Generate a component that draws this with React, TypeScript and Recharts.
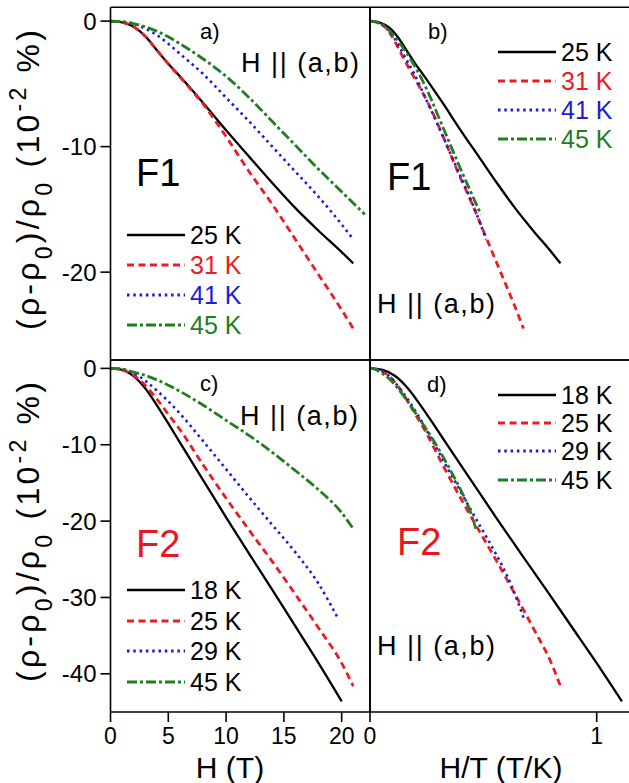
import React from "react";
import { LineChart, Line, XAxis, YAxis } from "recharts";

const FONT = '"Liberation Sans", Arial, Helvetica, sans-serif';

// sample F1, panels a) and b)  -- H in tesla, (rho-rho0)/rho0 in 1e-2 %
const f1Temps = [25, 31, 41, 45];
const f1H25 = [0, 1, 2, 3, 4, 5, 6, 8, 10, 12, 14, 16, 18, 20, 21];
const f1R25 = [0, -0.1, -0.45, -1.2, -2.3, -3.4, -4.4, -6.5, -8.7, -10.8, -12.9, -14.9, -16.7, -18.4, -19.3];
const f1H31 = [0, 1, 2, 3, 4, 5, 6, 8, 10, 12, 14, 16, 18, 20, 21];
const f1R31 = [0, -0.1, -0.45, -1.2, -2.3, -3.4, -4.45, -6.6, -9.2, -12.0, -14.6, -17.4, -20.2, -23.0, -24.5];
const f1H41 = [0, 1, 2, 3, 4, 5, 6, 8, 10, 12, 14, 16, 18, 20, 21];
const f1R41 = [0, -0.05, -0.2, -0.6, -1.1, -1.8, -2.6, -4.2, -6.1, -8.0, -10.0, -12.0, -14.0, -16.2, -17.4];
const f1H45 = [0, 1, 2, 3, 4, 5, 6, 8, 10, 12, 14, 16, 18, 20, 22];
const f1R45 = [0, -0.05, -0.2, -0.45, -0.8, -1.25, -1.8, -3.0, -4.4, -6.1, -8.0, -9.9, -11.8, -13.6, -15.4];

// sample F2, panels c) and d)
const f2Temps = [18, 25, 29, 45];
const f2H18 = [0, 1, 2, 3, 4, 5, 6, 8, 10, 12, 14, 16, 18, 20];
const f2R18 = [0, -0.2, -1.0, -2.6, -4.8, -7.2, -9.7, -14.6, -19.5, -24.3, -29.0, -33.8, -38.6, -43.6];
const f2H25 = [0, 1, 2, 3, 4, 5, 6, 8, 10, 12, 14, 16, 18, 20, 21];
const f2R25 = [0, -0.2, -0.9, -2.2, -4.0, -6.0, -8.0, -12.6, -17.0, -21.2, -25.3, -29.6, -34.0, -38.6, -41.6];
const f2H29 = [0, 1, 2, 3, 4, 5, 6, 8, 10, 12, 14, 16, 18, 19.7];
const f2R29 = [0, -0.1, -0.6, -1.6, -2.9, -4.3, -5.9, -9.5, -13.2, -16.9, -20.5, -24.1, -28.2, -32.8];
const f2H45 = [0, 1, 2, 3, 4, 5, 6, 8, 10, 12, 14, 16, 18, 20, 21];
const f2R45 = [0, -0.1, -0.5, -0.9, -1.5, -2.2, -3.0, -4.8, -6.8, -8.8, -11.0, -13.4, -15.9, -18.9, -21.0];

// ticks
const hMajor = [0, 5, 10, 15, 20];
const hMinor = [2.5, 7.5, 12.5, 17.5];
const htMajor = [0, 1];
const htMinor = [0.25, 0.5, 0.75];
const yMajorF1 = [0, -10, -20];
const yMinorF1 = [-5, -15, -25];
const yMajorF2 = [0, -10, -20, -30, -40];
const yMinorF2 = [-5, -15, -25, -35];

const STYLES = [
  { color: "#000000", dash: undefined, width: 2.3 },
  { color: "#ea1c24", dash: "7 4.5", width: 2.8 },
  { color: "#1c1cd4", dash: "2.5 3.8", width: 2.6 },
  { color: "#1f7e1f", dash: "10 3 3 3", width: 2.8 },
];

const toPoints = (h: number[], r: number[], t?: number) =>
  h.map((v, i) => ({ x: t ? v / t : v, y: r[i] }));

const f1Raw = [
  [f1H25, f1R25],
  [f1H31, f1R31],
  [f1H41, f1R41],
  [f1H45, f1R45],
];
const f2Raw = [
  [f2H18, f2R18],
  [f2H25, f2R25],
  [f2H29, f2R29],
  [f2H45, f2R45],
];

const curvesA = f1Raw.map(([h, r]) => toPoints(h, r));
const curvesB = f1Raw.map(([h, r], i) => toPoints(h, r, f1Temps[i]));
const curvesC = f2Raw.map(([h, r]) => toPoints(h, r));
const curvesD = f2Raw.map(([h, r], i) => toPoints(h, r, f2Temps[i]));

const W = 640;
const H = 783;
const THIN = 0.001; // axes take no room; the plot box is set by the margins
const AX = { stroke: "#000", strokeWidth: 1.6 };
const TICK_Y = { fill: "#000", fontSize: 24, fontFamily: FONT };
const TICK_X = { fill: "#000", fontSize: 23, fontFamily: FONT };

type PanelProps = {
  curves: { x: number; y: number }[][];
  box: number[];
  xDomain: number[];
  yDomain: number[];
  xMajor: number[];
  xMinor: number[];
  yMajor: number[];
  yMinor: number[];
  bottomLabels: boolean;
  leftLabels: boolean;
};

function Panel({ curves, box, xDomain, yDomain, xMajor, xMinor, yMajor, yMinor, bottomLabels, leftLabels }: PanelProps) {
  const [x0, y0, x1, y1] = box;
  const topTicks = [...xMinor, ...xMajor.filter((v) => v > 0)];
  return (
    <div style={{ position: "absolute", left: 0, top: 0 }}>
      <LineChart width={W} height={H} margin={{ left: x0, top: y0, right: W - x1, bottom: H - y1 }}>
        <XAxis xAxisId="x" type="number" dataKey="x" domain={xDomain} allowDataOverflow height={THIN}
          axisLine={AX} ticks={xMajor} interval={0} tickLine={bottomLabels ? AX : false}
          tickSize={10} tickMargin={6} tick={bottomLabels ? TICK_X : false} />
        {bottomLabels && (
          <XAxis xAxisId="xm" type="number" dataKey="x" domain={xDomain} allowDataOverflow height={THIN}
            axisLine={false} ticks={xMinor} interval={0} tickLine={AX} tickSize={5} tick={false} />
        )}
        <XAxis xAxisId="xt" orientation="top" mirror type="number" dataKey="x" domain={xDomain}
          allowDataOverflow height={THIN} axisLine={AX} ticks={topTicks} interval={0} tickLine={AX}
          tickSize={8} tick={false} />
        <YAxis yAxisId="y" type="number" domain={yDomain} allowDataOverflow width={THIN} axisLine={AX}
          ticks={yMajor} interval={0} tickLine={leftLabels ? AX : false} tickSize={10} tickMargin={4}
          tick={leftLabels ? TICK_Y : false} />
        {leftLabels && (
          <YAxis yAxisId="ym" type="number" domain={yDomain} allowDataOverflow width={THIN} axisLine={false}
            ticks={yMinor} interval={0} tickLine={AX} tickSize={5} tick={false} />
        )}
        <YAxis yAxisId="yr" orientation="right" mirror type="number" domain={yDomain} allowDataOverflow
          width={THIN} axisLine={AX} ticks={yMajor} interval={0} tickLine={AX} tickSize={10} tick={false} />
        <YAxis yAxisId="yrm" orientation="right" mirror type="number" domain={yDomain} allowDataOverflow
          width={THIN} axisLine={false} ticks={yMinor} interval={0} tickLine={AX} tickSize={6} tick={false} />
        {curves.map((c, i) => (
          <Line key={i} xAxisId="x" yAxisId="y" data={c} dataKey="y" type="monotone"
            stroke={STYLES[i].color} strokeWidth={STYLES[i].width} strokeDasharray={STYLES[i].dash}
            dot={false} activeDot={false} isAnimationActive={false} />
        ))}
      </LineChart>
    </div>
  );
}

function Key({ x, rows, temps, colored }: { x: number; rows: number[]; temps: number[]; colored: boolean }) {
  return (
    <g>
      {temps.map((t, i) => (
        <g key={t + "-" + i}>
          <line x1={x} x2={x + 58} y1={rows[i]} y2={rows[i]} stroke={STYLES[i].color}
            strokeWidth={STYLES[i].width + 0.4} strokeDasharray={STYLES[i].dash} />
          <text x={x + 63} y={rows[i] + 9} fontSize={25} fontFamily={FONT}
            fill={colored ? STYLES[i].color : "#000"}>{`${t} K`}</text>
        </g>
      ))}
    </g>
  );
}

function YTitle({ cx, cy }: { cx: number; cy: number }) {
  return (
    <text x={cx} y={cy} transform={`rotate(-90 ${cx} ${cy})`} textAnchor="middle" fontSize={32}
      fontFamily={FONT} textLength={300} lengthAdjust="spacing">
      (ρ-ρ<tspan baselineShift="sub" fontSize={23}>0</tspan>)/ρ<tspan baselineShift="sub" fontSize={23}>0</tspan>{" (10"}<tspan baselineShift="super" fontSize={23}>-2</tspan>{" %)"}
    </text>
  );
}

const tx = { fontFamily: FONT, fill: "#000" };
const orient = "H || (a,b)";

export default function App() {
  return (
    <div style={{ position: "absolute", left: 0, top: 0, width: 629, height: 783, overflow: "hidden", background: "#fff" }}>
      <Panel curves={curvesA} box={[110.5, 7.3, 370, 360]} xDomain={[0, 22.45]} yDomain={[-27, 1.1]}
        xMajor={hMajor} xMinor={hMinor} yMajor={yMajorF1} yMinor={yMinorF1} bottomLabels={false} leftLabels />
      <Panel curves={curvesB} box={[370, 7.3, 630.7, 360]} xDomain={[0, 1.15]} yDomain={[-27, 1.1]}
        xMajor={htMajor} xMinor={htMinor} yMajor={yMajorF1} yMinor={yMinorF1} bottomLabels={false} leftLabels={false} />
      <Panel curves={curvesC} box={[110.5, 360, 370, 712]} xDomain={[0, 22.45]} yDomain={[-45, 1.1]}
        xMajor={hMajor} xMinor={hMinor} yMajor={yMajorF2} yMinor={yMinorF2} bottomLabels leftLabels />
      <Panel curves={curvesD} box={[370, 360, 630.7, 712]} xDomain={[0, 1.15]} yDomain={[-45, 1.1]}
        xMajor={htMajor} xMinor={htMinor} yMajor={yMajorF2} yMinor={yMinorF2} bottomLabels leftLabels={false} />

      <svg width={629} height={783} style={{ position: "absolute", left: 0, top: 0, pointerEvents: "none" }}>
        {/* panel a */}
        <text x={200} y={39} fontSize={22} {...tx}>a)</text>
        <text x={241} y={72} fontSize={27} textLength={118} lengthAdjust="spacing" {...tx}>{orient}</text>
        <text x={136} y={186} fontSize={38} {...tx}>F1</text>
        <Key x={127} rows={[235, 265, 295, 325]} temps={f1Temps} colored />
        {/* panel b */}
        <text x={428} y={39} fontSize={22} {...tx}>b)</text>
        <text x={387} y={190} fontSize={38} {...tx}>F1</text>
        <text x={377} y={313} fontSize={27} textLength={118} lengthAdjust="spacing" {...tx}>{orient}</text>
        <Key x={498} rows={[52, 81, 110, 139]} temps={f1Temps} colored />
        {/* panel c */}
        <text x={200} y={391} fontSize={22} {...tx}>c)</text>
        <text x={240} y={425} fontSize={27} textLength={118} lengthAdjust="spacing" {...tx}>{orient}</text>
        <text x={136} y={557} fontSize={38} fontFamily={FONT} fill="#e8171f">F2</text>
        <Key x={127} rows={[590, 621, 651, 682]} temps={f2Temps} colored={false} />
        {/* panel d */}
        <text x={427} y={392} fontSize={22} {...tx}>d)</text>
        <text x={397} y={555} fontSize={38} fontFamily={FONT} fill="#e8171f">F2</text>
        <text x={377} y={655} fontSize={27} textLength={118} lengthAdjust="spacing" {...tx}>{orient}</text>
        <Key x={498} rows={[395, 423, 451, 480]} temps={f2Temps} colored={false} />
        {/* axis titles */}
        <YTitle cx={39} cy={180} />
        <YTitle cx={39} cy={532} />
        <text x={230} y={778} textAnchor="middle" fontSize={30} {...tx}>H (T)</text>
        <text x={501} y={778} textAnchor="middle" fontSize={30} {...tx}>H/T (T/K)</text>
      </svg>
    </div>
  );
}
